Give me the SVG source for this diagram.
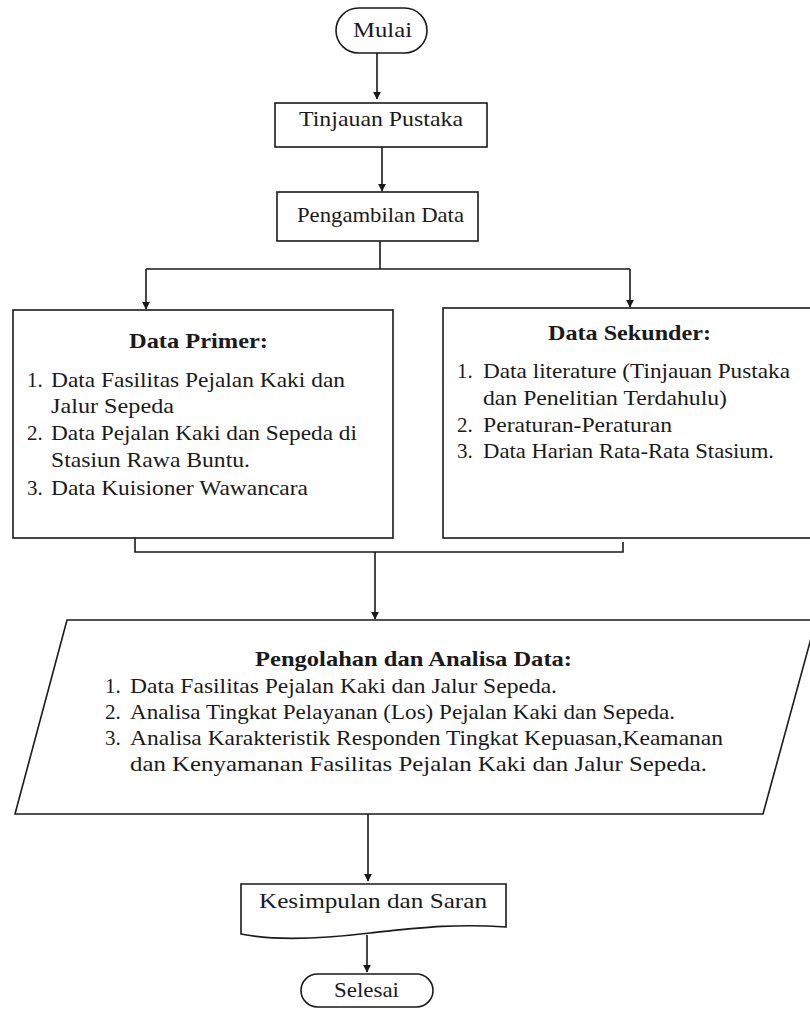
<svg xmlns="http://www.w3.org/2000/svg" width="810" height="1009" viewBox="0 0 810 1009">
<style>
.s{fill:#fff;stroke:#1a1a1a;stroke-width:1.6}
.t{font-family:'Liberation Serif','DejaVu Serif','Times New Roman',serif;font-size:21px;fill:#1a1a1a}
.b{font-weight:bold}
.c{fill:none;stroke:#1a1a1a;stroke-width:1.6}
</style>
<defs>
<marker id="ah" viewBox="0 0 10 10" refX="9" refY="5" markerWidth="5" markerHeight="5" orient="auto" markerUnits="strokeWidth">
<path d="M0,0 L10,5 L0,10 Z" fill="#1a1a1a"/>
</marker>
</defs>
<rect width="810" height="1009" fill="#fff"/>
<g id="connectors">
<path class="c" d="M377,53 V99" marker-end="url(#ah)"/>
<path class="c" d="M382,147 V191" marker-end="url(#ah)"/>
<path class="c" d="M380,241 V269 M146,269 H630"/>
<path class="c" d="M146,269 V309" marker-end="url(#ah)"/>
<path class="c" d="M630,269 V307" marker-end="url(#ah)"/>
<path class="c" d="M135,538 V552 H623 V542"/>
<path class="c" d="M375,552 V619" marker-end="url(#ah)"/>
<path class="c" d="M368,814 V881" marker-end="url(#ah)"/>
<path class="c" d="M367,935 V972" marker-end="url(#ah)"/>
</g>
<g id="mulai">
<rect class="s" x="336" y="8" width="91" height="45" rx="22.5"/>
<text class="t" x="353" y="37" textLength="59" lengthAdjust="spacingAndGlyphs">Mulai</text>
</g>
<g id="tinjauan">
<rect class="s" x="275" y="103" width="212" height="44"/>
<text class="t" x="299" y="126" textLength="164" lengthAdjust="spacingAndGlyphs">Tinjauan Pustaka</text>
</g>
<g id="pengambilan">
<rect class="s" x="277" y="192" width="201" height="49"/>
<text class="t" x="297" y="222" textLength="167" lengthAdjust="spacingAndGlyphs">Pengambilan Data</text>
</g>
<g id="primer">
<rect class="s" x="13" y="310" width="380" height="228"/>
<text class="t b" x="129" y="348" textLength="139" lengthAdjust="spacingAndGlyphs">Data Primer:</text>
<text class="t" x="27" y="387">1.</text>
<text class="t" x="51" y="387" textLength="294" lengthAdjust="spacingAndGlyphs">Data Fasilitas Pejalan Kaki dan</text>
<text class="t" x="51" y="413" textLength="123" lengthAdjust="spacingAndGlyphs">Jalur Sepeda</text>
<text class="t" x="27" y="440">2.</text>
<text class="t" x="51" y="440" textLength="306" lengthAdjust="spacingAndGlyphs">Data Pejalan Kaki dan Sepeda di</text>
<text class="t" x="51" y="467" textLength="199" lengthAdjust="spacingAndGlyphs">Stasiun Rawa Buntu.</text>
<text class="t" x="27" y="495">3.</text>
<text class="t" x="51" y="495" textLength="257" lengthAdjust="spacingAndGlyphs">Data Kuisioner Wawancara</text>
</g>
<g id="sekunder">
<rect class="s" x="443" y="308" width="380" height="230"/>
<text class="t b" x="548" y="340" textLength="163" lengthAdjust="spacingAndGlyphs">Data Sekunder:</text>
<text class="t" x="457" y="378">1.</text>
<text class="t" x="483" y="378" textLength="307" lengthAdjust="spacingAndGlyphs">Data literature (Tinjauan Pustaka</text>
<text class="t" x="483" y="405" textLength="244" lengthAdjust="spacingAndGlyphs">dan Penelitian Terdahulu)</text>
<text class="t" x="457" y="432">2.</text>
<text class="t" x="483" y="432" textLength="189" lengthAdjust="spacingAndGlyphs">Peraturan-Peraturan</text>
<text class="t" x="457" y="458">3.</text>
<text class="t" x="483" y="458" textLength="291" lengthAdjust="spacingAndGlyphs">Data Harian Rata-Rata Stasium.</text>
</g>
<g id="pengolahan">
<path class="s" d="M67,620 H816 L763,814 H15 Z"/>
<text class="t b" x="255" y="666" textLength="317" lengthAdjust="spacingAndGlyphs">Pengolahan dan Analisa Data:</text>
<text class="t" x="105" y="693">1.</text>
<text class="t" x="130" y="693" textLength="427" lengthAdjust="spacingAndGlyphs">Data Fasilitas Pejalan Kaki dan Jalur Sepeda.</text>
<text class="t" x="105" y="719">2.</text>
<text class="t" x="130" y="719" textLength="545" lengthAdjust="spacingAndGlyphs">Analisa Tingkat Pelayanan (Los) Pejalan Kaki dan Sepeda.</text>
<text class="t" x="105" y="745">3.</text>
<text class="t" x="130" y="745" textLength="593" lengthAdjust="spacingAndGlyphs">Analisa Karakteristik Responden Tingkat Kepuasan,Keamanan</text>
<text class="t" x="130" y="771" textLength="577" lengthAdjust="spacingAndGlyphs">dan Kenyamanan Fasilitas Pejalan Kaki dan Jalur Sepeda.</text>
</g>
<g id="kesimpulan">
<path class="s" d="M241,884 H506 V927 C450,923 410,929 370,933 C320,939 275,941 241,934 Z"/>
<text class="t" x="259" y="908" textLength="228" lengthAdjust="spacingAndGlyphs">Kesimpulan dan Saran</text>
</g>
<g id="selesai">
<rect class="s" x="301" y="974" width="132" height="33" rx="16.5"/>
<text class="t" x="334" y="997" textLength="65" lengthAdjust="spacingAndGlyphs">Selesai</text>
</g>
</svg>
